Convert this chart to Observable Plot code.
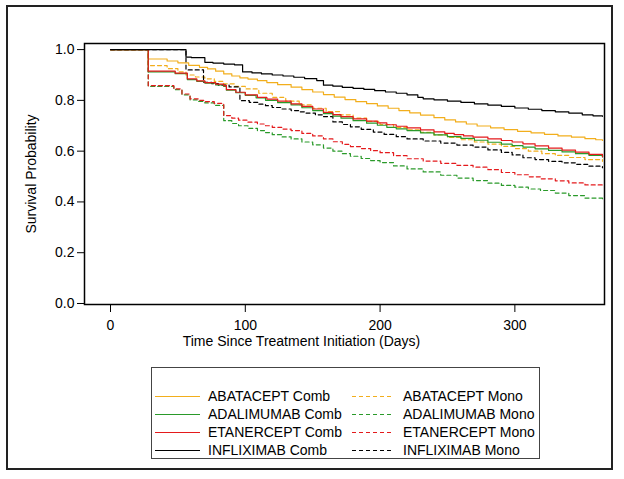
<!DOCTYPE html>
<html>
<head>
<meta charset="utf-8">
<script src="https://cdn.jsdelivr.net/npm/d3@7"></script>
<script src="https://cdn.jsdelivr.net/npm/@observablehq/plot@0.6"></script>
<style>
  html, body { margin: 0; padding: 0; background: #fff; }
  #wrap { position: relative; width: 624px; height: 479px; font-family: "Liberation Sans", Arial, sans-serif; }
  #outer { position: absolute; left: 6px; top: 5px; width: 603px; height: 461px; border: 2px solid #222; }
  #chart { position: absolute; left: 0; top: 0; }
  #legend { position: absolute; left: 151px; top: 367px; width: 387px; height: 90px; border: 1px solid #444; }
  .item { position: absolute; font-size: 14px; color: #000; line-height: 18px; height: 18px; white-space: nowrap; }
  .item svg { position: absolute; top: 0; }
  .item span { position: absolute; top: 0; }
</style>
</head>
<body>
<div id="wrap">
  <div id="outer"></div>
  <div id="chart"></div>
  <div id="legend"></div>
</div>
<script>
// Series labels and styles
const seriesNames = ["ABATACEPT Comb", "ADALIMUMAB Comb", "ETANERCEPT Comb", "INFLIXIMAB Comb",
                     "ABATACEPT Mono", "ADALIMUMAB Mono", "ETANERCEPT Mono", "INFLIXIMAB Mono"];
const seriesColors = ["#F2AE1C", "#2A9A2A", "#E41A1C", "#000000",
                      "#F2AE1C", "#2A9A2A", "#E41A1C", "#000000"];
const xTicks = [0, 100, 200, 300];
const yTicks = [0, 0.2, 0.4, 0.6, 0.8, 1.0];
const xTitle = "Time Since Treatment Initiation (Days)";
const yTitle = "Survival Probability";

// ABATACEPT Comb
const abaCombDay  = [0, 28, 42, 50, 58, 66, 72, 78, 84, 90, 96, 102, 109, 116, 124, 134, 142, 150, 158, 166, 174, 182, 190, 198, 206, 214, 222, 230, 240, 248, 256, 264, 272, 282, 292, 302, 312, 322, 332, 342, 352, 360, 365];
const abaCombSurv = [1.0, 0.963, 0.955, 0.948, 0.938, 0.930, 0.924, 0.915, 0.904, 0.896, 0.889, 0.884, 0.878, 0.870, 0.862, 0.852, 0.842, 0.833, 0.823, 0.813, 0.803, 0.795, 0.787, 0.778, 0.769, 0.760, 0.751, 0.742, 0.732, 0.723, 0.715, 0.707, 0.699, 0.692, 0.685, 0.678, 0.672, 0.666, 0.660, 0.655, 0.649, 0.645, 0.642];
// ADALIMUMAB Comb
const adaCombDay  = [0, 28, 48, 57, 64, 70, 78, 84, 86, 93, 100, 108, 115, 124, 134, 142, 150, 158, 165, 171, 180, 190, 198, 205, 212, 220, 230, 240, 250, 260, 270, 280, 290, 298, 306, 315, 325, 335, 345, 355, 365];
const adaCombSurv = [1.0, 0.912, 0.905, 0.882, 0.875, 0.868, 0.861, 0.855, 0.840, 0.830, 0.820, 0.810, 0.800, 0.791, 0.782, 0.771, 0.760, 0.748, 0.738, 0.730, 0.720, 0.710, 0.702, 0.694, 0.688, 0.681, 0.672, 0.664, 0.657, 0.650, 0.643, 0.635, 0.628, 0.622, 0.616, 0.609, 0.603, 0.597, 0.590, 0.583, 0.577];
// ETANERCEPT Comb
const etaCombDay  = [0, 28, 48, 57, 64, 70, 78, 84, 86, 93, 100, 109, 116, 124, 134, 142, 150, 158, 165, 171, 180, 190, 198, 205, 212, 220, 230, 240, 248, 255, 262, 269, 280, 290, 298, 306, 315, 325, 335, 345, 355, 365];
const etaCombSurv = [1.0, 0.915, 0.907, 0.885, 0.877, 0.870, 0.864, 0.858, 0.842, 0.832, 0.822, 0.812, 0.805, 0.797, 0.786, 0.776, 0.766, 0.753, 0.744, 0.736, 0.727, 0.718, 0.711, 0.704, 0.698, 0.692, 0.684, 0.676, 0.670, 0.665, 0.660, 0.655, 0.648, 0.642, 0.636, 0.629, 0.621, 0.612, 0.604, 0.596, 0.587, 0.578];
// INFLIXIMAB Comb
const infCombDay  = [0, 56, 60, 70, 76, 84, 92, 98, 105, 112, 120, 128, 136, 144, 153, 158, 165, 172, 180, 188, 196, 204, 212, 220, 228, 232, 240, 250, 260, 270, 280, 290, 300, 310, 320, 330, 340, 350, 358, 365];
const infCombSurv = [1.0, 0.970, 0.968, 0.950, 0.947, 0.943, 0.940, 0.912, 0.908, 0.904, 0.900, 0.896, 0.891, 0.886, 0.878, 0.860, 0.856, 0.851, 0.847, 0.843, 0.838, 0.833, 0.828, 0.822, 0.812, 0.806, 0.802, 0.797, 0.792, 0.786, 0.781, 0.776, 0.770, 0.765, 0.760, 0.755, 0.750, 0.743, 0.739, 0.737];
// ABATACEPT Mono
const abaMonoDay  = [0, 28, 42, 50, 56, 63, 70, 77, 84, 92, 100, 110, 120, 130, 140, 150, 160, 170, 180, 190, 200, 210, 220, 230, 240, 250, 260, 270, 280, 290, 300, 310, 320, 330, 340, 352, 365];
const abaMonoSurv = [1.0, 0.937, 0.925, 0.912, 0.900, 0.892, 0.885, 0.875, 0.865, 0.855, 0.845, 0.828, 0.812, 0.797, 0.782, 0.769, 0.756, 0.743, 0.730, 0.717, 0.705, 0.694, 0.684, 0.674, 0.664, 0.654, 0.645, 0.636, 0.628, 0.619, 0.610, 0.600, 0.590, 0.583, 0.575, 0.567, 0.560];
// ADALIMUMAB Mono
const adaMonoDay  = [0, 28, 47, 53, 59, 65, 70, 77, 84, 90, 95, 102, 109, 115, 120, 127, 134, 142, 150, 158, 165, 172, 178, 186, 193, 200, 210, 220, 232, 245, 257, 269, 280, 290, 300, 310, 319, 330, 340, 352, 365];
const adaMonoSurv = [1.0, 0.855, 0.842, 0.822, 0.802, 0.796, 0.790, 0.780, 0.720, 0.709, 0.700, 0.690, 0.681, 0.673, 0.665, 0.656, 0.648, 0.636, 0.625, 0.612, 0.600, 0.590, 0.580, 0.571, 0.563, 0.555, 0.542, 0.530, 0.518, 0.505, 0.494, 0.484, 0.474, 0.465, 0.458, 0.451, 0.445, 0.435, 0.425, 0.415, 0.406];
// ETANERCEPT Mono
const etaMonoDay  = [0, 28, 47, 53, 59, 65, 70, 77, 84, 90, 95, 102, 109, 115, 120, 127, 134, 142, 150, 158, 165, 172, 178, 186, 193, 200, 210, 220, 232, 245, 257, 269, 280, 290, 300, 310, 319, 330, 340, 352, 365];
const etaMonoSurv = [1.0, 0.858, 0.845, 0.825, 0.806, 0.800, 0.795, 0.788, 0.740, 0.730, 0.722, 0.714, 0.707, 0.700, 0.694, 0.687, 0.681, 0.670, 0.660, 0.648, 0.637, 0.627, 0.618, 0.610, 0.602, 0.594, 0.582, 0.570, 0.561, 0.552, 0.544, 0.537, 0.527, 0.516, 0.507, 0.499, 0.491, 0.483, 0.475, 0.467, 0.458];
// INFLIXIMAB Mono
const infMonoDay  = [0, 56, 69, 75, 80, 88, 96, 103, 110, 115, 120, 127, 134, 140, 145, 152, 158, 165, 172, 178, 186, 195, 203, 212, 220, 232, 245, 257, 269, 280, 290, 298, 306, 315, 325, 335, 345, 355, 365];
const infMonoSurv = [1.0, 0.920, 0.871, 0.866, 0.860, 0.853, 0.799, 0.792, 0.785, 0.779, 0.772, 0.766, 0.760, 0.755, 0.750, 0.743, 0.736, 0.715, 0.705, 0.696, 0.686, 0.675, 0.666, 0.657, 0.648, 0.640, 0.632, 0.624, 0.616, 0.605, 0.595, 0.585, 0.574, 0.567, 0.560, 0.554, 0.548, 0.541, 0.535];

const seriesDays = [abaCombDay, adaCombDay, etaCombDay, infCombDay, abaMonoDay, adaMonoDay, etaMonoDay, infMonoDay];
const seriesSurv = [abaCombSurv, adaCombSurv, etaCombSurv, infCombSurv, abaMonoSurv, adaMonoSurv, etaMonoSurv, infMonoSurv];

function rows(i) {
  return seriesDays[i].map((d, j) => ({day: d, surv: seriesSurv[i][j], name: seriesNames[i]}));
}

// draw mono (dashed) first, then combination (solid) lines
const drawOrder = [5, 6, 4, 7, 0, 1, 2, 3];
const lineMarks = drawOrder.map(i => Plot.line(rows(i), {
  x: "day", y: "surv", curve: "step-after",
  stroke: seriesColors[i], strokeWidth: 1.2,
  strokeDasharray: i >= 4 ? "4,3" : null
}));

const chart = Plot.plot({
  width: 624,
  height: 360,
  marginLeft: 84,
  marginRight: 20,
  marginTop: 43,
  marginBottom: 56,
  style: {fontFamily: "'Liberation Sans', Arial, sans-serif", fontSize: "14px", background: "transparent", color: "#000"},
  x: {domain: [-19.3, 366.5]},
  y: {domain: [-0.004, 1.024]},
  marks: [
    Plot.axisY({ticks: yTicks, tickFormat: d3.format(".1f"), tickSize: 7, tickPadding: 3,
      label: yTitle, labelAnchor: "center", labelArrow: "none", labelOffset: 58, fontSize: 14}),
    Plot.axisX({ticks: xTicks, tickFormat: d3.format("d"), tickSize: 8, tickPadding: 8,
      label: null, fontSize: 14}),
    Plot.text([xTitle], {text: d => d, frameAnchor: "bottom", lineAnchor: "middle", dy: 37, dx: -43, fontSize: 14, fill: "#000"}),
    ...lineMarks,
    Plot.frame({stroke: "#000", strokeWidth: 1.5})
  ]
});
document.getElementById("chart").appendChild(chart);

// Legend (two columns, four rows)
const legend = document.getElementById("legend");
const colX = [[3, 48, 56], [200, 240, 251]]; // sample start, sample end, text start (relative to box)
const rowTop = 19;
seriesNames.forEach((name, i) => {
  const col = i < 4 ? 0 : 1;
  const row = i % 4;
  const [s0, s1, t0] = colX[col];
  const div = document.createElement("div");
  div.className = "item";
  div.style.left = "0px";
  div.style.top = (rowTop + row * 18) + "px";
  div.style.width = "385px";
  const dash = i >= 4 ? ' stroke-dasharray="4,3"' : '';
  div.innerHTML = `<svg width="${s1 + 2}" height="18" style="left:0"><line x1="${s0}" x2="${s1}" y1="9.5" y2="9.5" stroke="${seriesColors[i]}" stroke-width="1.2"${dash}/></svg><span style="left:${t0}px">${name}</span>`;
  legend.appendChild(div);
});
</script>
</body>
</html>
